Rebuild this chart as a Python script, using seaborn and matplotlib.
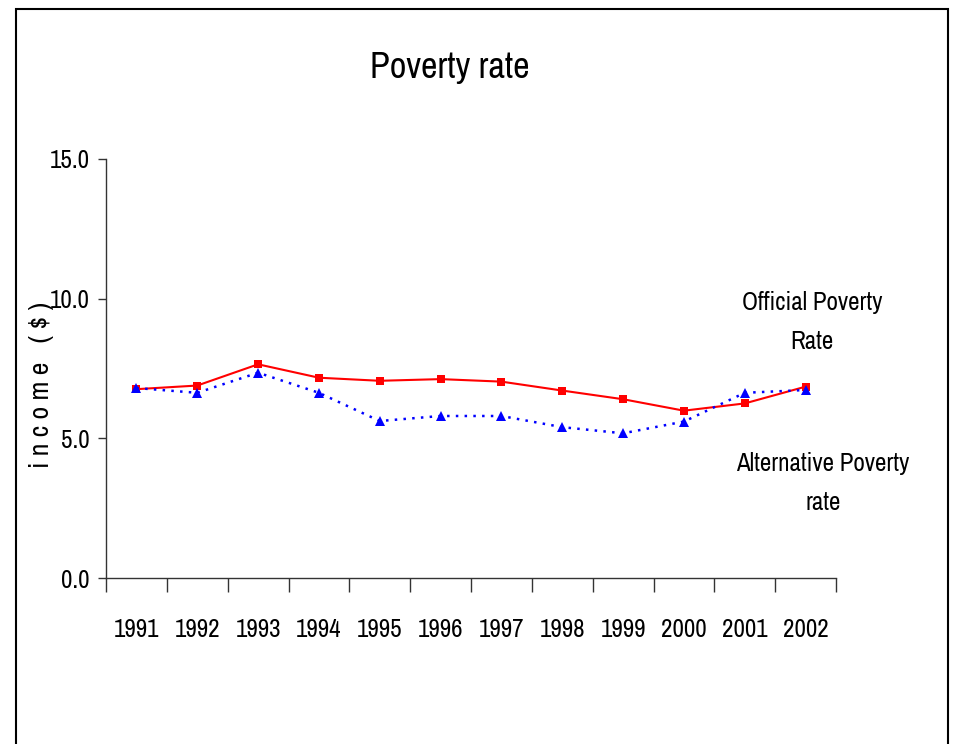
import pandas as pd
import matplotlib
matplotlib.use('Agg')
from matplotlib import pyplot as plt
from matplotlib import font_manager
from matplotlib.patches import Rectangle
from matplotlib.ticker import FixedLocator
import seaborn as sns

years = ['1991', '1992', '1993', '1994', '1995', '1996',
         '1997', '1998', '1999', '2000', '2001', '2002']
official_rate = [6.76, 6.89, 7.65, 7.17, 7.06, 7.12, 7.03, 6.71, 6.40, 5.99, 6.25, 6.85]
alternative_rate = [6.80, 6.63, 7.35, 6.63, 5.62, 5.80, 5.80, 5.40, 5.18, 5.60, 6.63, 6.73]
y_ticks = [0.0, 5.0, 10.0, 15.0]

data = pd.DataFrame({'Year': years,
                     'Official': official_rate,
                     'Alternative': alternative_rate})

# look for a narrow font, otherwise fall back to Liberation Sans a bit smaller
narrow = [f.name for f in font_manager.fontManager.ttflist
          if 'Narrow' in f.name or 'Condensed' in f.name]
if narrow:
    family = [sorted(narrow)[0], 'DejaVu Sans']
    fs = 18
else:
    family = ['Liberation Sans', 'DejaVu Sans']
    fs = 15

sns.set_style('white')
plt.rcParams['font.family'] = family
plt.rcParams['text.color'] = 'black'
plt.rcParams['axes.labelcolor'] = 'black'
plt.rcParams['xtick.color'] = 'black'
plt.rcParams['ytick.color'] = 'black'

fig = plt.figure(figsize=(9.55, 7.44), dpi=100)
ax = fig.add_axes([106 / 955, 1 - 578 / 744, (836 - 106) / 955, (578 - 159) / 744])

sns.lineplot(data=data, x='Year', y='Official', ax=ax, color='#ff0000',
             linewidth=1.5, marker='s', markersize=6, markeredgewidth=0,
             sort=False)
sns.lineplot(data=data, x='Year', y='Alternative', ax=ax, color='#0000ff',
             linewidth=1.8, linestyle=(0, (1, 2.5)), marker='^', markersize=7,
             markeredgewidth=0, sort=False)

ax.set_xlim(-0.5, len(years) - 0.5)
ax.set_ylim(0, 15)
ax.set_yticks(y_ticks)
ax.set_yticklabels([f'{v:.1f}' for v in y_ticks])
ax.xaxis.set_minor_locator(FixedLocator([i - 0.5 for i in range(len(years) + 1)]))
ax.tick_params(axis='x', which='major', length=0, pad=37, labelsize=fs)
ax.tick_params(axis='x', which='minor', length=10, width=1, color='#333333',
               direction='out', bottom=True)
ax.tick_params(axis='y', which='major', length=6, width=1, color='#333333',
               direction='out', left=True, labelsize=fs, pad=6)
for lbl in ax.get_xticklabels():
    lbl.set_verticalalignment('center')

for side in ['top', 'right']:
    ax.spines[side].set_visible(False)
for side in ['left', 'bottom']:
    ax.spines[side].set_color('#333333')
    ax.spines[side].set_linewidth(1)

ax.set_xlabel('')
ax.set_ylabel('i n c o m e   ( $ )', fontsize=fs + 2)
ax.yaxis.label.set_verticalalignment('center')
ax.yaxis.set_label_coords(-0.088, (578 - 385) / (578 - 159))

fig.text(450 / 955, 1 - 68 / 744, 'Poverty rate', ha='center', va='center',
         fontsize=fs + 8)
fig.text(812 / 955, 1 - 322 / 744, 'Official Poverty\nRate', ha='center', va='center',
         fontsize=fs, linespacing=1.8)
fig.text(823 / 955, 1 - 483 / 744, 'Alternative Poverty\nrate', ha='center', va='center',
         fontsize=fs, linespacing=1.8)

border = Rectangle((16 / 955, -0.05), (948 - 16) / 955, 1.05 - 9 / 744,
                   transform=fig.transFigure, fill=False, edgecolor='black',
                   linewidth=1.5, clip_on=False)
fig.patches.append(border)

fig.savefig('out.png', dpi=100)
plt.close()
